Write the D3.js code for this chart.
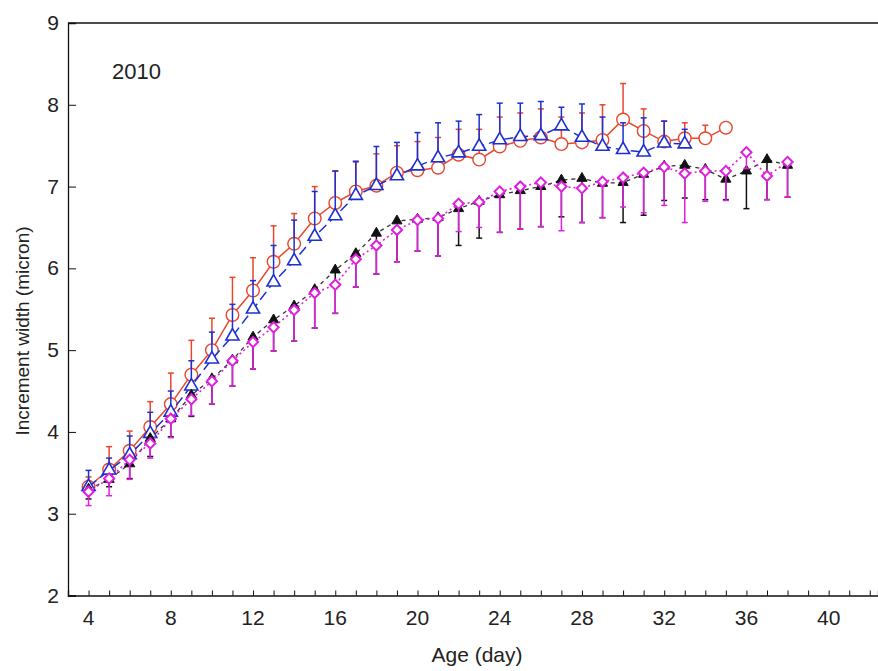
<!DOCTYPE html>
<html lang="en">
<head>
    <meta charset="UTF-8">
    <title>Increment width by age, 2010</title>
    <style>
        body, html {
            margin: 0;
            padding: 0;
            background: #fff;
            font-family: Arial, "Liberation Sans", sans-serif;
        }
        #chart {
            width: 878px;
            height: 671px;
        }
    </style>
    <script src="https://d3js.org/d3.v7.min.js"></script>
</head>
<body>
    <div id="chart"></div>
    <script>
        // age (day) for every sample, series start at day 4
        const ages = [4, 5, 6, 7, 8, 9, 10, 11, 12, 13, 14, 15, 16, 17, 18, 19, 20, 21,
                      22, 23, 24, 25, 26, 27, 28, 29, 30, 31, 32, 33, 34, 35, 36, 37, 38];

        // red circles (days 4-35), upper error
        const redMean = [3.33, 3.54, 3.77, 4.06, 4.34, 4.70, 5.00, 5.43, 5.73, 6.08, 6.30, 6.61, 6.80, 6.94, 7.01, 7.17,
                         7.20, 7.23, 7.39, 7.33, 7.49, 7.56, 7.60, 7.52, 7.54, 7.57, 7.82, 7.68, 7.55, 7.59, 7.59, 7.72];
        const redErr  = [0.12, 0.28, 0.24, 0.31, 0.38, 0.42, 0.39, 0.46, 0.40, 0.44, 0.37, 0.39, 0.39, 0.36, 0.39, 0.33,
                         0.35, 0.37, 0.31, 0.37, 0.36, 0.34, 0.35, 0.33, 0.36, 0.43, 0.44, 0.27, 0.25, 0.19, 0.16, 0];

        // blue open triangles (days 4-33), upper error
        const blueMean = [3.33, 3.53, 3.72, 3.98, 4.24, 4.56, 4.89, 5.17, 5.50, 5.83, 6.09, 6.39, 6.64, 6.89, 7.01,
                          7.13, 7.25, 7.35, 7.41, 7.49, 7.57, 7.61, 7.62, 7.74, 7.60, 7.49, 7.45, 7.42, 7.53, 7.52];
        const blueErr  = [0.20, 0.15, 0.23, 0.26, 0.26, 0.31, 0.33, 0.39, 0.35, 0.45, 0.50, 0.55, 0.55, 0.42, 0.48,
                          0.41, 0.41, 0.43, 0.39, 0.39, 0.45, 0.41, 0.42, 0.23, 0.41, 0.36, 0.33, 0.42, 0.27, 0.18];

        // black filled triangles (days 4-38), lower error
        const blackMean = [3.30, 3.42, 3.61, 3.92, 4.16, 4.45, 4.65, 4.88, 5.16, 5.37, 5.54, 5.74, 5.98, 6.18, 6.43, 6.58,
                           6.60, 6.62, 6.73, 6.82, 6.90, 6.95, 7.00, 7.08, 7.10, 7.04, 7.05, 7.15, 7.25, 7.26, 7.21,
                           7.09, 7.19, 7.33, 7.26];
        const blackErr  = [0.12, 0.09, 0.18, 0.22, 0.22, 0.26, 0.31, 0.32, 0.39, 0.38, 0.43, 0.47, 0.53, 0.41, 0.50, 0.50,
                           0.39, 0.47, 0.45, 0.45, 0.46, 0.47, 0.49, 0.45, 0.54, 0.42, 0.49, 0.50, 0.42, 0.40, 0.37,
                           0.25, 0.46, 0.49, 0.39];

        // magenta diamonds (days 4-38), lower error
        const pinkMean = [3.27, 3.43, 3.66, 3.86, 4.16, 4.40, 4.62, 4.87, 5.10, 5.28, 5.49, 5.70, 5.80, 6.11, 6.28, 6.47,
                          6.59, 6.61, 6.79, 6.81, 6.94, 7.00, 7.05, 7.00, 6.98, 7.06, 7.11, 7.17, 7.24, 7.16, 7.19,
                          7.19, 7.42, 7.13, 7.30];
        const pinkErr  = [0.17, 0.21, 0.24, 0.18, 0.23, 0.20, 0.28, 0.31, 0.33, 0.29, 0.38, 0.43, 0.35, 0.34, 0.35, 0.39,
                          0.38, 0.46, 0.34, 0.31, 0.50, 0.52, 0.54, 0.54, 0.42, 0.44, 0.36, 0.49, 0.47, 0.60, 0.37,
                          0.36, 0.20, 0.29, 0.43];

        const xTickValues = [4, 5, 6, 7, 8, 9, 10, 11, 12, 13, 14, 15, 16, 17, 18, 19, 20, 21, 22, 23,
                             24, 25, 26, 27, 28, 29, 30, 31, 32, 33, 34, 35, 36, 37, 38, 39, 40, 41, 42];
        const xTickLabels = [4, 8, 12, 16, 20, 24, 28, 32, 36, 40];
        const yTickLabels = [2, 3, 4, 5, 6, 7, 8, 9];

        const width = 878, height = 671;
        const margin = {top: 23, right: 0, bottom: 75, left: 68};

        const svg = d3.select("#chart").append("svg")
            .attr("width", width)
            .attr("height", height)
            .style("display", "block");

        const x = d3.scaleLinear().domain([3, 42.4]).range([margin.left, width - margin.right]);
        const y = d3.scaleLinear().domain([2, 9]).range([height - margin.bottom - 0.5, margin.top]);

        const font = "Arial, 'Liberation Sans', sans-serif";

        // frame: left spine, bottom axis, top line
        svg.append("line")
            .attr("x1", x(3)).attr("x2", width)
            .attr("y1", y(9)).attr("y2", y(9))
            .attr("stroke", "#111").attr("stroke-width", 1.3);

        const xAxis = svg.append("g")
            .attr("transform", `translate(0,${y(2)})`)
            .call(d3.axisBottom(x).tickValues(xTickValues).tickSize(-5).tickFormat(""));
        xAxis.select(".domain").attr("stroke", "#111").attr("stroke-width", 1.3);
        xAxis.selectAll(".tick line").attr("stroke", "#111");

        svg.append("g").selectAll("text")
            .data(xTickLabels)
            .join("text")
            .attr("x", d => x(d))
            .attr("y", y(2) + 29)
            .attr("text-anchor", "middle")
            .attr("font-family", font)
            .attr("font-size", 21)
            .attr("fill", "#222")
            .text(d => d);

        const yAxis = svg.append("g")
            .attr("transform", `translate(${x(3)},0)`)
            .call(d3.axisLeft(y).tickValues(yTickLabels).tickSize(-8).tickFormat(""));
        yAxis.select(".domain").attr("stroke", "#111").attr("stroke-width", 1.3);
        yAxis.selectAll(".tick line").attr("stroke", "#111");

        svg.append("g").selectAll("text")
            .data(yTickLabels)
            .join("text")
            .attr("x", x(3) - 9)
            .attr("y", d => y(d) + 7)
            .attr("text-anchor", "end")
            .attr("font-family", font)
            .attr("font-size", 21)
            .attr("fill", "#222")
            .text(d => d);

        svg.append("text")
            .attr("x", 477).attr("y", 662)
            .attr("text-anchor", "middle")
            .attr("font-family", font)
            .attr("font-size", 21)
            .attr("fill", "#222")
            .text("Age (day)");

        svg.append("text")
            .attr("transform", "translate(29,331) rotate(-90)")
            .attr("text-anchor", "middle")
            .attr("font-family", font)
            .attr("font-size", 19)
            .attr("fill", "#222")
            .text("Increment width (micron)");

        svg.append("text")
            .attr("x", 112).attr("y", 79)
            .attr("font-family", font)
            .attr("font-size", 22)
            .attr("fill", "#222")
            .text("2010");

        function toPoints(mean, err) {
            return mean.map((m, i) => ({age: ages[i], mean: m, err: err[i]}));
        }

        const series = [
            {name: "red",   pts: toPoints(redMean, redErr),     color: "#e8462e", dir: -1,
             dash: null,  lw: 1.5, marker: "circle"},
            {name: "blue",  pts: toPoints(blueMean, blueErr),   color: "#1c2fd4", dir: -1,
             dash: "10,5", lw: 1.5, marker: "triangle"},
            {name: "black", pts: toPoints(blackMean, blackErr), color: "#111111", dir: 1,
             dash: "4,4", lw: 1.3, marker: "filledTriangle", lineColor: "#333"},
            {name: "pink",  pts: toPoints(pinkMean, pinkErr),   color: "#e01fe0", dir: 1,
             dash: "2,3", lw: 1.6, marker: "diamond"}
        ];

        const line = d3.line().x(d => x(d.age)).y(d => y(d.mean));

        series.forEach(s => {
            const g = svg.append("g").attr("class", s.name);

            // error bars (one-sided)
            const eb = g.append("g").selectAll("g")
                .data(s.pts.filter(d => d.err > 0))
                .join("g");
            eb.append("line")
                .attr("x1", d => x(d.age)).attr("x2", d => x(d.age))
                .attr("y1", d => y(d.mean))
                .attr("y2", d => y(d.mean - s.dir * d.err))
                .attr("stroke", s.color).attr("stroke-width", 1.5);
            eb.append("line")
                .attr("x1", d => x(d.age) - 3).attr("x2", d => x(d.age) + 3)
                .attr("y1", d => y(d.mean - s.dir * d.err))
                .attr("y2", d => y(d.mean - s.dir * d.err))
                .attr("stroke", s.color).attr("stroke-width", 1.5);

            g.append("path")
                .datum(s.pts)
                .attr("d", line)
                .attr("fill", "none")
                .attr("stroke", s.lineColor || s.color)
                .attr("stroke-width", s.lw)
                .attr("stroke-dasharray", s.dash);

            const m = g.append("g").selectAll("path")
                .data(s.pts)
                .join("path")
                .attr("transform", d => `translate(${x(d.age)},${y(d.mean)})` +
                    (s.marker === "diamond" ? " rotate(45)" : ""));

            if (s.marker === "circle") {
                m.attr("d", d3.symbol(d3.symbolCircle, 125))
                    .attr("fill", "#fff").attr("stroke", s.color).attr("stroke-width", 1.4);
            } else if (s.marker === "triangle") {
                m.attr("d", d3.symbol(d3.symbolTriangle, 75))
                    .attr("fill", "#fff").attr("stroke", s.color).attr("stroke-width", 1.6);
            } else if (s.marker === "filledTriangle") {
                m.attr("d", d3.symbol(d3.symbolTriangle, 45))
                    .attr("fill", s.color).attr("stroke", s.color).attr("stroke-width", 1);
            } else {
                m.attr("d", d3.symbol(d3.symbolSquare, 52))
                    .attr("fill", "#fff").attr("stroke", s.color).attr("stroke-width", 2);
            }
        });
    </script>
</body>
</html>
